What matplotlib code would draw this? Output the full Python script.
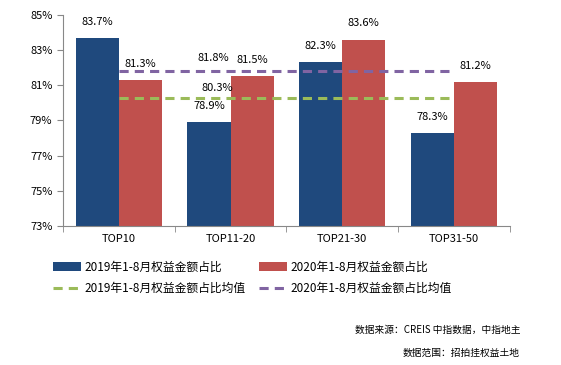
import matplotlib
matplotlib.use("Agg")
import matplotlib.pyplot as plt
from matplotlib.ticker import FixedLocator, FuncFormatter

plt.rcParams['font.family'] = ['Noto Sans CJK SC', 'DejaVu Sans']

categories = ["TOP10", "TOP11-20", "TOP21-30", "TOP31-50"]
share_2019 = [83.7, 78.9, 82.3, 78.3]
share_2020 = [81.3, 81.5, 83.6, 81.2]
mean_2019 = 80.3
mean_2020 = 81.8

name_2019 = "2019年1-8月权益金额占比"
name_2020 = "2020年1-8月权益金额占比"
name_mean_2019 = "2019年1-8月权益金额占比均值"
name_mean_2020 = "2020年1-8月权益金额占比均值"

source_lines = ["数据来源：CREIS 中指数据，中指地主", "数据范围：招拍挂权益土地"]

blue = "#1F497D"
red = "#C0504D"
green = "#9BBB59"
purple = "#8064A2"

fig = plt.figure(figsize=(5.61, 3.65), dpi=100)
ax = fig.add_axes([0.112, 0.381, 0.797, 0.578])

x = list(range(len(categories)))
w = 0.385
b1 = ax.bar([i - w / 2 for i in x], share_2019, width=w, color=blue, label=name_2019)
b2 = ax.bar([i + w / 2 for i in x], share_2020, width=w, color=red, label=name_2020)

l1, = ax.plot([x[0], x[-1]], [mean_2019, mean_2019], color=green, lw=2.2,
              dashes=(3, 2), label=name_mean_2019)
l2, = ax.plot([x[0], x[-1]], [mean_2020, mean_2020], color=purple, lw=2.2,
              dashes=(3, 2), label=name_mean_2020)

for bars, vals in ((b1, share_2019), (b2, share_2020)):
    for bar, v in zip(bars, vals):
        ax.annotate(f"{v:.1f}%", (bar.get_x() + bar.get_width() / 2, v),
                    xytext=(0, 8), textcoords="offset points",
                    ha="center", va="bottom", fontsize=8)

# labels for the mean lines
ax.annotate(f"{mean_2020:.1f}%", (x[1] - 0.15, mean_2020), xytext=(0, 6),
            textcoords="offset points", ha="center", va="bottom", fontsize=8)
ax.annotate(f"{mean_2019:.1f}%", (x[1] - 0.12, mean_2019), xytext=(0, 3.5),
            textcoords="offset points", ha="center", va="bottom", fontsize=8)

ax.set_ylim(73, 85)
ax.set_xlim(-0.5, len(categories) - 0.5)
ax.set_yticks(range(73, 86, 2))
ax.yaxis.set_major_formatter(FuncFormatter(lambda v, p: f"{v:.0f}%"))
ax.set_xticks(x)
ax.set_xticklabels(categories)
ax.xaxis.set_minor_locator(FixedLocator([i - 0.5 for i in range(len(categories) + 1)]))
ax.tick_params(axis="x", which="major", length=0, labelsize=8, pad=6)
ax.tick_params(axis="x", which="minor", length=4, color="#888888")
ax.tick_params(axis="y", length=4, color="#888888", labelsize=8)

for spine in ["top", "right"]:
    ax.spines[spine].set_visible(False)
for spine in ["left", "bottom"]:
    ax.spines[spine].set_color("#888888")

# legend fills column by column, so order handles to get rows: bars / lines
fig.legend(handles=[b1, l1, b2, l2], ncol=2, loc="upper left",
           bbox_to_anchor=(0.075, 0.315), frameon=False, fontsize=8.5,
           handlelength=2.4, handleheight=0.8, handletextpad=0.3,
           columnspacing=1.1, labelspacing=0.7)

fig.text(0.927, 0.096, source_lines[0], ha="right", va="center", fontsize=7)
fig.text(0.927, 0.033, source_lines[1], ha="right", va="center", fontsize=7)

fig.savefig("out.png", dpi=100)
